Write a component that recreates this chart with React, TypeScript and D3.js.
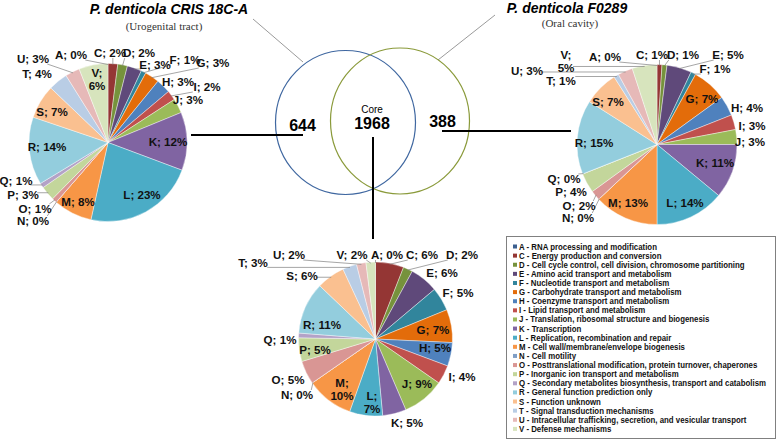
import React, { useLayoutEffect, useRef, useState } from 'react';
import * as d3 from 'd3';

// ---------- data ----------
const categories = ['A','C','D','E','F','G','H','I','J','K','L','M','N','O','P','Q','R','S','T','U','V'];
const descriptions = [
  'RNA processing and modification',
  'Energy production and conversion',
  'Cell cycle control, cell division, chromosome partitioning',
  'Amino acid transport and metabolism',
  'Nucleotide transport and metabolism',
  'Carbohydrate transport and metabolism',
  'Coenzyme transport and metabolism',
  'Lipid transport and metabolism',
  'Translation, ribosomal structure and biogenesis',
  'Transcription',
  'Replication, recombination and repair',
  'Cell wall/membrane/envelope biogenesis',
  'Cell motility',
  'Posttranslational modification, protein turnover, chaperones',
  'Inorganic ion transport and metabolism',
  'Secondary metabolites biosynthesis, transport and catabolism',
  'General function prediction only',
  'Function unknown',
  'Signal transduction mechanisms',
  'Intracellular trafficking, secretion, and vesicular transport',
  'Defense mechanisms',
];
// percentage of COG categories
const crisValues  = [0, 2, 2, 3, 1, 3, 3, 2, 3, 12, 23, 8, 0, 1, 3, 1, 14, 7, 4, 3, 6];
const f0289Values = [0, 1, 1, 5, 1, 7, 4, 3, 3, 11, 14, 13, 0, 2, 4, 0, 15, 7, 1, 3, 5];
const coreValues  = [0, 6, 2, 6, 5, 7, 5, 4, 9, 5, 7, 10, 0, 5, 5, 1, 11, 6, 3, 2, 2];
const vennLabels = ['644', '1968', '388'];
const strainTitles = ['P. denticola CRIS 18C-A', 'P. denticola F0289'];
const strainSources = ['(Urogenital tract)', '(Oral cavity)'];

// ---------- styles ----------
const colors = [
  '#3B5F8F', '#943634', '#76923C', '#5F497A', '#31859C', '#E36C0A', '#4F81BD',
  '#C0504D', '#9BBB59', '#8064A2', '#4BACC6', '#F79646', '#7F9EC5', '#D99694',
  '#C3D69B', '#B3A2C7', '#93CDDD', '#FAC090', '#B9CDE5', '#E6B9B8', '#D7E4BD',
];
const NARROW = "'Liberation Sans Narrow', 'Arial Narrow', 'Liberation Sans', Arial, sans-serif";

// label layout: [dx, dy from pie centre, leader line?, wrap onto two lines?]
type LL = [number, number, boolean, boolean];
const leftLayout: LL[] = [
  [-37, -87.5, true, false], [2, -89.5, true, false], [31, -89.5, true, false],
  [47, -77.5, true, false], [77, -82.5, true, false], [105, -79.5, true, false],
  [70, -60.5, false, false], [99, -55.5, true, false], [80, -42.5, false, false],
  [60, -0.5, false, false], [34, 52.5, false, false], [-30, 59.5, false, false],
  [-75, 78.5, true, false], [-73, 66.5, true, false], [-85, 52.5, true, false],
  [-92, 38.5, true, false], [-61, 4.5, false, false], [-56, -30.5, false, false],
  [-71, -68.5, false, false], [-75, -83.5, true, false], [-11, -63.5, false, true],
];
const rightLayout: LL[] = [
  [-52, -87.5, true, false], [-5, -89.5, true, false], [26, -89.5, true, false],
  [71, -89.5, true, false], [58, -75.5, true, false], [45, -45.5, false, false],
  [90, -36.5, false, false], [95, -18.5, false, false], [93, -2.5, false, false],
  [58, 18.5, false, false], [28, 58.5, false, false], [-29, 58.5, false, false],
  [-79, 73.5, true, false], [-78, 61.5, true, false], [-86, 47.5, false, false],
  [-93, 34.5, true, false], [-63, -1.5, false, false], [-49, -42.5, false, false],
  [-96, -63.5, true, false], [-130, -73.5, true, false], [-91, -83.5, true, true],
];
const coreLayout: LL[] = [
  [11.5, -84, true, false], [46.5, -84, true, false], [86.5, -84, true, false],
  [66.5, -66, false, false], [82.5, -46, false, false], [57.5, -9, false, false],
  [59.5, 9, false, false], [86.5, 38, false, false], [41.5, 45, false, false],
  [31.5, 84, false, false], [-3.5, 63.5, false, true], [-33.5, 50, false, true],
  [-78.5, 56, true, false], [-87.5, 41, false, false], [-60.5, 11, false, false],
  [-95.5, 1, false, false], [-53.5, -14, false, false], [-73.5, -63, true, false],
  [-122.5, -76, true, false], [-86.5, -84, true, false], [-23.5, -84, true, false],
];

function Pie({ values, cx, cy, r, layout }: { values: number[]; cx: number; cy: number; r: number; layout: LL[] }) {
  const pie = d3.pie<number>().sort(null).value((d) => d).startAngle(0).endAngle(2 * Math.PI);
  const arcs = pie(values);
  const arc = d3.arc<d3.PieArcDatum<number>>().innerRadius(0).outerRadius(r);
  const rim = d3.arc<d3.PieArcDatum<number>>().innerRadius(r - 1).outerRadius(r - 1);
  return (
    <g transform={`translate(${cx},${cy})`}>
      {arcs.map((a, i) => (
        <path key={i} d={arc(a) || ''} fill={colors[i]} stroke="#ffffff" strokeWidth={0.4} />
      ))}
      {arcs.map((a, i) => {
        const [lx, ly, leader] = layout[i];
        if (!leader) return null;
        const [tx, ty] = rim.centroid(a);
        const txt = `${categories[i]}; ${values[i]}%`;
        const w = layout[i][3] ? 12 : txt.length * 5.3;
        const h = layout[i][3] ? 22 : 10;
        const sx = Math.max(lx - w / 2 - 1, Math.min(lx + w / 2 + 1, tx));
        const sy = Math.max(ly - h / 2, Math.min(ly + h / 2, ty));
        return <line key={'l' + i} x1={sx} y1={sy} x2={tx} y2={ty} stroke="#808080" strokeWidth={0.7} />;
      })}
      {arcs.map((a, i) => {
        const [lx, ly, , wrap] = layout[i];
        const c = categories[i];
        const v = `${values[i]}%`;
        const common = { textAnchor: 'middle' as const, fontFamily: NARROW, fontWeight: 'bold', fontSize: 11.6, fill: '#111' };
        return wrap ? (
          <g key={'t' + i}>
            <text x={lx} y={ly - 2.5} {...common}>{`${c};`}</text>
            <text x={lx} y={ly + 10.5} {...common}>{v}</text>
          </g>
        ) : (
          <text key={'t' + i} x={lx} y={ly + 4} {...common}>{`${c}; ${v}`}</text>
        );
      })}
    </g>
  );
}

export default function App() {
  const W = 778, H = 442;
  const left = { cx: 108, cy: 142.5 };
  const right = { cx: 657, cy: 144.5 };
  const bottom = { cx: 375.5, cy: 339 };
  const legendY = d3.scaleLinear().domain([0, categories.length - 1]).range([246.5, 428.9]);
  const legendTextX = 519;
  const legendMaxWidth = 247;
  const textRefs = useRef<(SVGTextElement | null)[]>([]);
  const [widths, setWidths] = useState<number[] | null>(null);
  useLayoutEffect(() => {
    if (!widths) {
      setWidths(textRefs.current.map((t) => (t ? t.getComputedTextLength() : 0)));
    }
  }, [widths]);
  const k = widths ? legendMaxWidth / Math.max(...widths) : 1;
  return (
    <svg width={W} height={H} viewBox={`0 0 ${W} ${H}`} style={{ position: 'absolute', left: 0, top: 0, background: '#fff' }}>
      <rect x={0} y={0} width={W} height={H} fill="#fff" />
      {/* titles */}
      <text x={169} y={14} textAnchor="middle" fontFamily="'Liberation Sans', Arial, sans-serif" fontWeight="bold" fontStyle="italic" fontSize={14}>{strainTitles[0]}</text>
      <text x={164} y={29.5} textAnchor="middle" fontFamily="'Liberation Serif', 'Times New Roman', serif" fontSize={11} fill="#333">{strainSources[0]}</text>
      <text x={567} y={13} textAnchor="middle" fontFamily="'Liberation Sans', Arial, sans-serif" fontWeight="bold" fontStyle="italic" fontSize={14}>{strainTitles[1]}</text>
      <text x={570} y={27} textAnchor="middle" fontFamily="'Liberation Serif', 'Times New Roman', serif" fontSize={11} fill="#333">{strainSources[1]}</text>
      <line x1={253} y1={19} x2={303} y2={62} stroke="#808080" strokeWidth={0.8} />
      <line x1={495} y1={15} x2={438} y2={60} stroke="#808080" strokeWidth={0.8} />

      {/* venn */}
      <ellipse cx={345.5} cy={122.5} rx={70} ry={72} fill="none" stroke="#3F67A0" strokeWidth={1.2} />
      <ellipse cx={400} cy={121} rx={69.5} ry={73} fill="none" stroke="#8A9A3A" strokeWidth={1.2} />
      <text x={372} y={112.7} textAnchor="middle" fontFamily="'Liberation Sans', Arial, sans-serif" fontSize={10}>Core</text>
      <text x={372} y={129.3} textAnchor="middle" fontFamily={NARROW} fontWeight="bold" fontSize={16}>{vennLabels[1]}</text>
      <text x={302.5} y={130.7} textAnchor="middle" fontFamily={NARROW} fontWeight="bold" fontSize={16}>{vennLabels[0]}</text>
      <text x={442.5} y={126.7} textAnchor="middle" fontFamily={NARROW} fontWeight="bold" fontSize={16}>{vennLabels[2]}</text>

      {/* connectors */}
      <line x1={191} y1={135} x2={303} y2={135} stroke="#000" strokeWidth={2} />
      <line x1={442} y1={131} x2={571} y2={131} stroke="#000" strokeWidth={2} />
      <line x1={373} y1={137} x2={373} y2={239} stroke="#000" strokeWidth={2} />

      <Pie values={crisValues} cx={left.cx} cy={left.cy} r={79} layout={leftLayout} />
      <Pie values={f0289Values} cx={right.cx} cy={right.cy} r={80} layout={rightLayout} />
      <Pie values={coreValues} cx={bottom.cx} cy={bottom.cy} r={77} layout={coreLayout} />

      {/* legend */}
      <rect x={506.5} y={236.5} width={269} height={202} fill="#fff" stroke="#808080" strokeWidth={1} />
      {categories.map((c, i) => (
        <g key={c}>
          <rect x={513} y={legendY(i) - 2} width={4} height={4} fill={colors[i]} />
          <text
            ref={(el) => { textRefs.current[i] = el; }}
            x={legendTextX}
            y={legendY(i) + 3}
            fontFamily={NARROW}
            fontWeight="bold"
            fontSize={8.2}
            fill="#111"
            {...(widths ? { textLength: widths[i] * k, lengthAdjust: 'spacingAndGlyphs' } : {})}
          >{`${c} - ${descriptions[i]}`}</text>
        </g>
      ))}
    </svg>
  );
}
